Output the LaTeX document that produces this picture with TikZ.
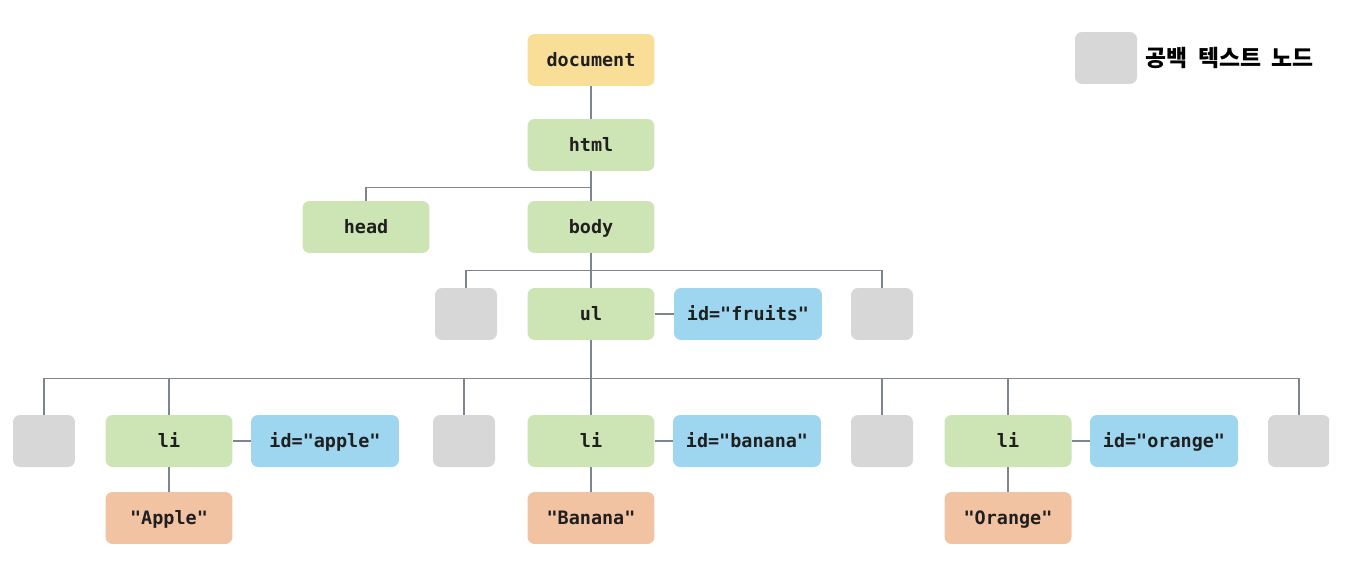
\documentclass[tikz,border=0pt]{standalone}
\usepackage{fontspec}
\setmonofont{DejaVu Sans Mono}
\newfontfamily\krfont{Noto Sans CJK KR}
\usetikzlibrary{positioning}

\definecolor{docyellow}{HTML}{F9DE97}
\definecolor{elgreen}{HTML}{CDE4B4}
\definecolor{attrblue}{HTML}{9ED5EF}
\definecolor{txtorange}{HTML}{F2C3A2}
\definecolor{blankgray}{HTML}{D7D7D7}
\definecolor{linkgray}{HTML}{7D8591}

\tikzset{
  box/.style = {rounded corners=4pt, minimum width=2.54cm, minimum height=1.04cm,
    inner sep=0pt, text height=0.9em, text depth=0.15em, text=black!88,
    font=\ttfamily\bfseries\fontsize{10.5}{12}\selectfont},
  docbox/.style = {box, fill=docyellow},
  elbox/.style = {box, fill=elgreen},
  attrbox/.style = {box, fill=attrblue, minimum width=2.96cm},
  txtbox/.style = {box, fill=txtorange},
  blankbox/.style = {box, fill=blankgray, minimum width=1.24cm},
  link/.style = {draw=linkgray, line width=0.6pt}
}

\begin{document}
\begin{tikzpicture}[x=0.02cm, y=-0.02cm]
\useasboundingbox (0,0) rectangle (1348,568);
\clip (0,0) rectangle (1329,543);

% legend
\node[blankbox] (legendbox) at (1106,58) {};
\node[right=0.16cm of legendbox, inner sep=0pt, font=\krfont\bfseries\fontsize{13}{15}\selectfont]
  (legend) {공백\ \ 텍스트\ \ 노드};

% upper part of the tree
\node[docbox] (document) at (591,60) {document};
\node[elbox] (html) at (591,145) {html};
\node[elbox] (head) at (366,227) {head};
\node[elbox] (body) at (591,227) {body};
\node[blankbox] (blank1) at (466,314) {};
\node[elbox] (ul) at (591,314) {ul};
\node[attrbox] (ulid) at (748,314) {id="fruits"};
\node[blankbox] (blank2) at (882,314) {};

\draw[link] (document) -- (html);
\draw[link] (html.south) -- ++(0,16) -| (head.north);
\draw[link] (html) -- (body);
\draw[link] (body) -- (ul);
\draw[link] (body.south) -- ++(0,17) -| (blank1.north);
\draw[link] (body.south) -- ++(0,17) -| (blank2.north);
\draw[link] (ul) -- (ulid);

% list items
\foreach \n/\x in {3/44, 4/464, 5/882, 6/1299}
  \node[blankbox] (blank\n) at (\x,441) {};
\foreach \n/\x/\word in {apple/169/Apple, banana/591/Banana, orange/1008/Orange} {
  \node[elbox] (li-\n) at (\x,441) {li};
  \node[attrbox] (id-\n) at (\x+156,441) {id="\n"};
  \node[txtbox] (txt-\n) at (\x,518) {"\word"};
  \draw[link] (li-\n) -- (id-\n);
  \draw[link] (li-\n) -- (txt-\n);
}
\foreach \c in {blank3, li-apple, blank4, li-banana, blank5, li-orange, blank6}
  \draw[link] (ul.south) -- ++(0,38) -| (\c.north);
\end{tikzpicture}
\end{document}
